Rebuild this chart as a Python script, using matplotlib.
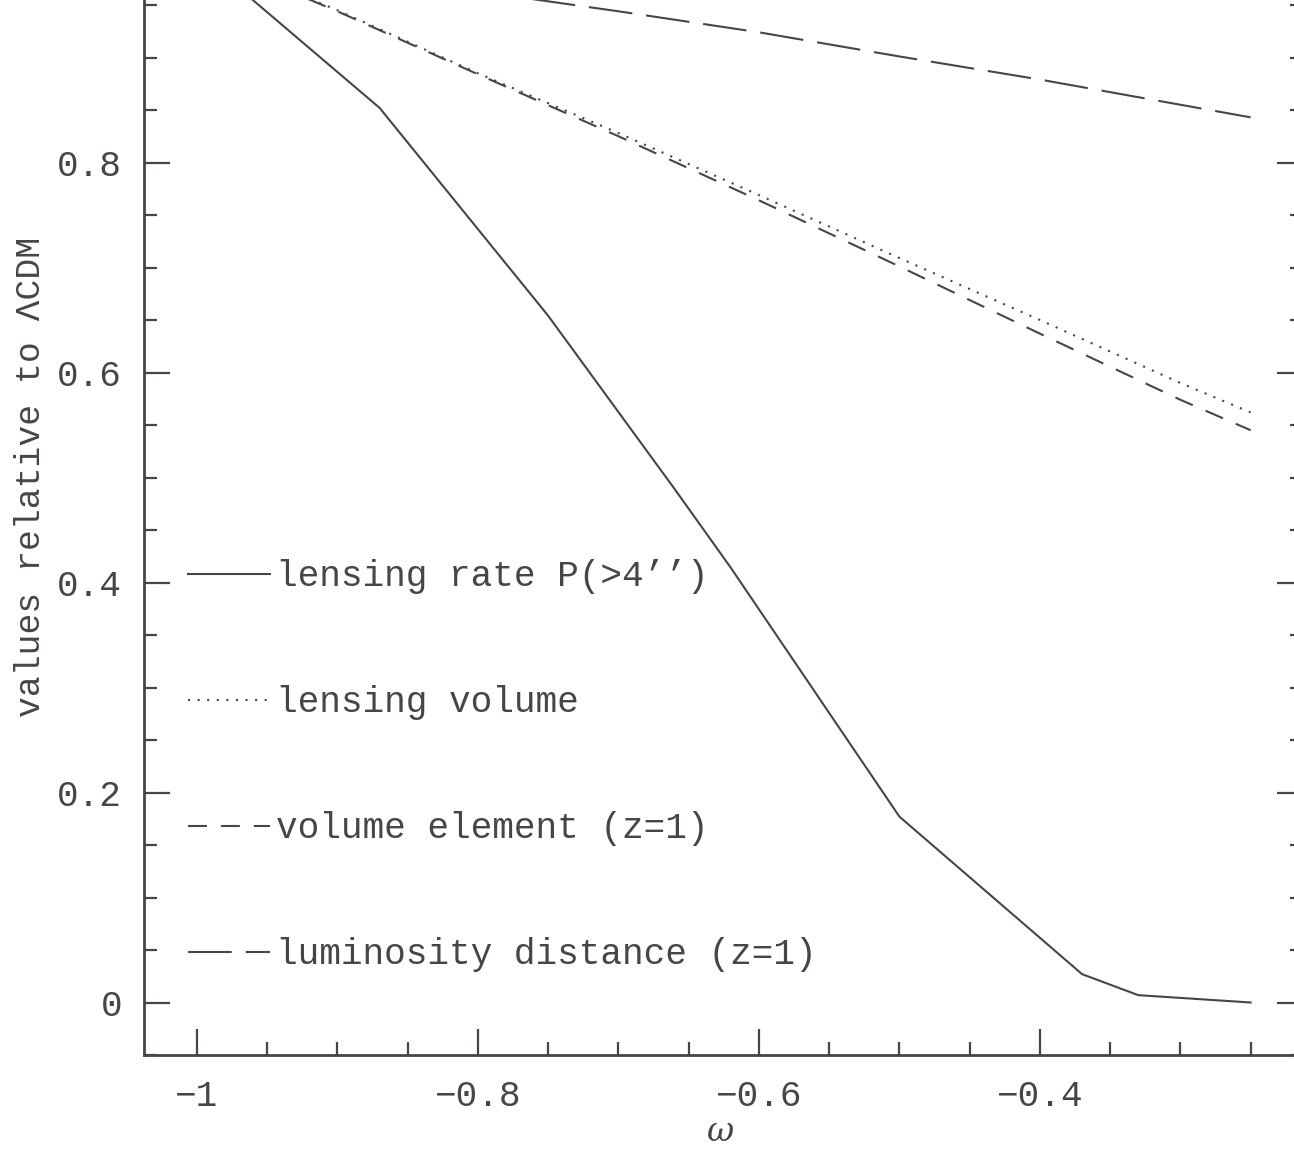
import numpy as np
import matplotlib
matplotlib.use('Agg')
import matplotlib.pyplot as plt
from matplotlib.ticker import MultipleLocator

# values
w = [-1.0, -0.9, -0.8, -0.7, -0.6, -0.5, -0.4, -0.3, -0.25]
lens_volume = [1.0, 0.945, 0.885, 0.828, 0.769, 0.709, 0.650, 0.590, 0.562]
vol_element = [1.0, 0.944, 0.884, 0.825, 0.764, 0.701, 0.637, 0.574, 0.545]
lum_dist = [1.0, 0.982, 0.963, 0.944, 0.924, 0.901, 0.879, 0.855, 0.843]

rate_w = [-1.0, -0.87, -0.75, -0.66, -0.62, -0.5, -0.37, -0.33, -0.25]
lens_rate = [1.0, 0.852, 0.654, 0.489, 0.414, 0.177, 0.027, 0.007, 0.0]

labels = ['lensing rate P(>4\u2019\u2019)', 'lensing volume',
          'volume element (z=1)', 'luminosity distance (z=1)']

ink = '#4a4545'
plt.rcParams['font.family'] = ['Liberation Mono', 'DejaVu Sans']
plt.rcParams['mathtext.fontset'] = 'dejavuserif'

fig = plt.figure(figsize=(12.94, 11.49), dpi=100)
ax = fig.add_axes([0.11151, 0.08181, 0.8957, 0.95953])

lw = 1.5
l1, = ax.plot(rate_w, lens_rate, color=ink, lw=lw)
l2, = ax.plot(w, lens_volume, color=ink, lw=lw, dashes=(1, 3.6))
l3, = ax.plot(w, vol_element, color=ink, lw=lw, dashes=(9.1, 6.7))
l4, = ax.plot(w, lum_dist, color=ink, lw=lw, dashes=(21, 6.7))

ax.set_xlim(-1.0375, -0.2125)
ax.set_ylim(-0.05, 1.0)

ax.xaxis.set_major_locator(MultipleLocator(0.2))
ax.xaxis.set_minor_locator(MultipleLocator(0.05))
ax.yaxis.set_major_locator(MultipleLocator(0.2))
ax.yaxis.set_minor_locator(MultipleLocator(0.05))
ax.xaxis.set_major_formatter(lambda v, p: ('%g' % round(v, 2)).replace('-', '\u2212'))
# the 1.0 label sits above the cropped top edge in the original
ax.yaxis.set_major_formatter(lambda v, p: '%g' % round(v, 2) if v < 0.9 else '')

ax.tick_params(which='both', direction='in', top=True, right=True,
               color=ink, labelcolor=ink, width=1.6, labelsize=26)
ax.tick_params(axis='y', which='major', length=19, pad=16)
ax.tick_params(axis='x', which='major', length=19, pad=17)
ax.tick_params(which='minor', length=9.5)
for s in ax.spines.values():
    s.set_color(ink)
    s.set_linewidth(2.0)

ax.set_ylabel('values relative to \u039bCDM', fontsize=25, color=ink)
ax.yaxis.set_label_coords(-0.0986, 0.524)
ax.yaxis.label.set_va('center')
ax.set_xlabel(r'$\omega$', fontsize=24, color=ink)
ax.xaxis.set_label_coords(0.4967, -0.0705)
ax.xaxis.label.set_va('center')

leg = ax.legend([l1, l2, l3, l4], labels, loc='upper left',
                bbox_to_anchor=(0.0377, 0.4496), frameon=False, fontsize=26,
                handlelength=2.27, handletextpad=0.17, labelspacing=2.52,
                borderpad=0, borderaxespad=0)
for t in leg.get_texts():
    t.set_color(ink)

fig.savefig('out.png', dpi=100)
